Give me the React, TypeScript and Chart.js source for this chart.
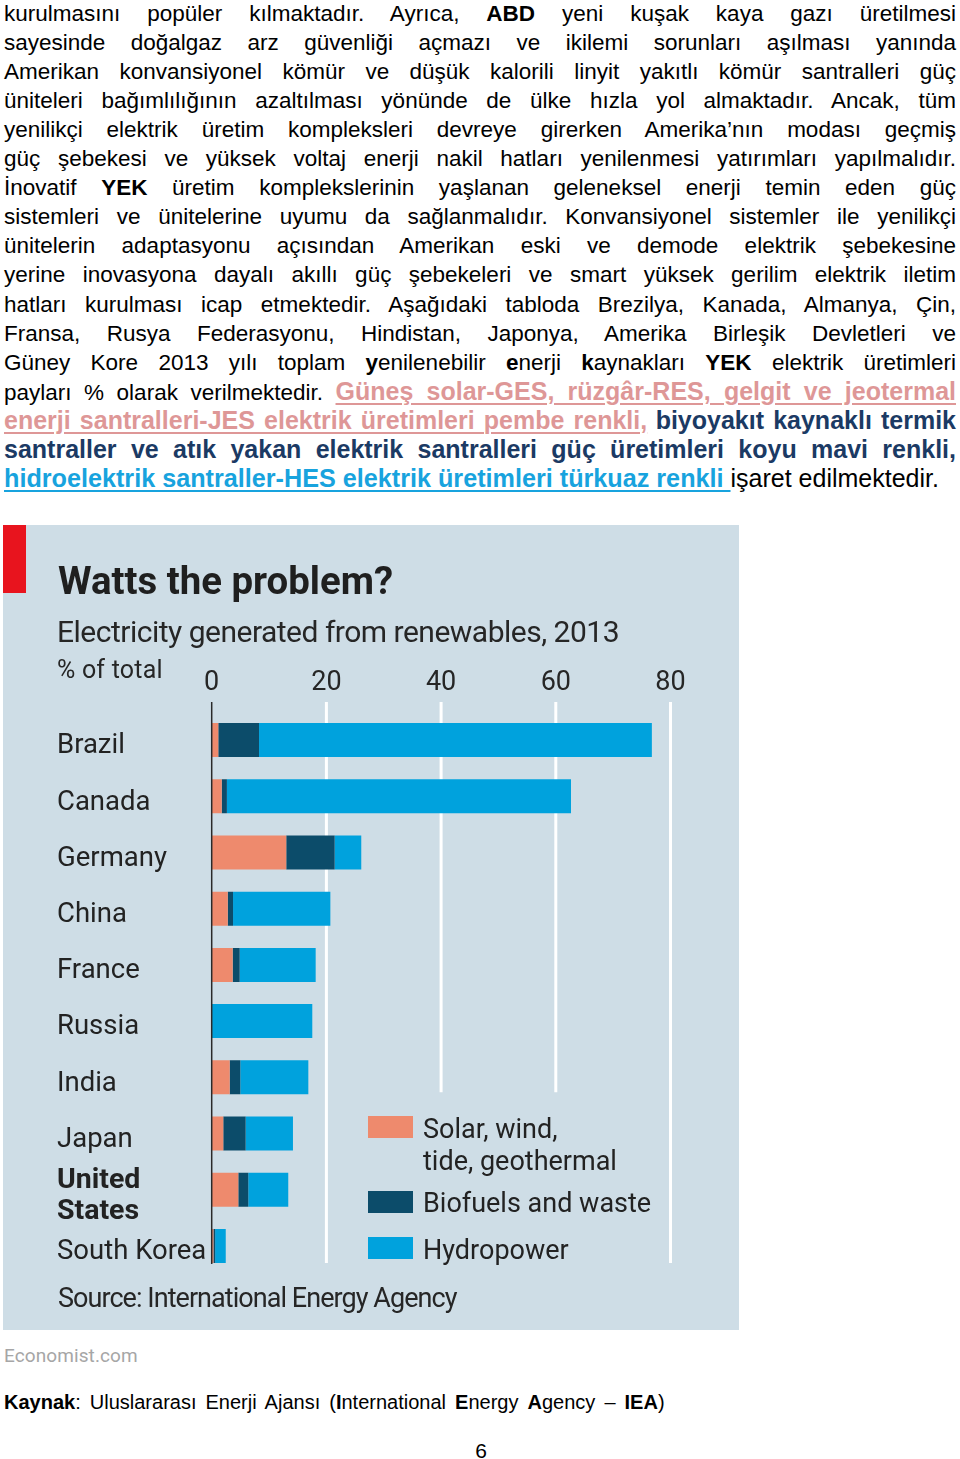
import React, { useEffect, useLayoutEffect, useRef } from "react";
import { Chart, registerables } from "chart.js";

Chart.register(...registerables);

// ---------- chart data ----------
const countries: (string | string[])[] = [
  "Brazil",
  "Canada",
  "Germany",
  "China",
  "France",
  "Russia",
  "India",
  "Japan",
  ["United", "States"],
  "South Korea",
];
const solarWindTideGeo = [1.15, 1.75, 13.0, 2.8, 3.66, 0, 3.14, 2.02, 4.64, 0.3];
const biofuelsWaste = [7.1, 0.9, 8.44, 0.92, 1.22, 0, 1.85, 3.9, 1.74, 0.3];
const hydropower = [68.5, 60.0, 4.64, 16.97, 13.25, 17.54, 11.86, 8.25, 6.97, 1.85];
const xTickValues = [0, 20, 40, 60, 80];
const seriesNames = ["Solar, wind, tide, geothermal", "Biofuels and waste", "Hydropower"];
const legendLines = [["Solar, wind,", "tide, geothermal"], ["Biofuels and waste"], ["Hydropower"]];
const shortGridValues = [40, 60];

// ---------- page text ----------
type Seg = [string, string];
const paragraphLines: Seg[][] = [
  [["kurulmasını popüler kılmaktadır. Ayrıca, ", "n"], ["ABD", "b"], [" yeni kuşak kaya gazı üretilmesi", "n"]],
  [["sayesinde doğalgaz arz güvenliği açmazı ve ikilemi sorunları aşılması yanında", "n"]],
  [["Amerikan konvansiyonel kömür ve düşük kalorili linyit yakıtlı kömür santralleri güç", "n"]],
  [["üniteleri bağımlılığının azaltılması yönünde de ülke hızla yol almaktadır. Ancak, tüm", "n"]],
  [["yenilikçi elektrik üretim kompleksleri devreye girerken Amerika’nın modası geçmiş", "n"]],
  [["güç şebekesi ve yüksek voltaj enerji nakil hatları yenilenmesi yatırımları yapılmalıdır.", "n"]],
  [["İnovatif ", "n"], ["YEK", "b"], [" üretim komplekslerinin yaşlanan geleneksel enerji temin eden güç", "n"]],
  [["sistemleri ve ünitelerine uyumu da sağlanmalıdır. Konvansiyonel sistemler ile yenilikçi", "n"]],
  [["ünitelerin adaptasyonu açısından Amerikan eski ve demode elektrik şebekesine", "n"]],
  [["yerine inovasyona dayalı akıllı güç şebekeleri ve smart yüksek gerilim elektrik iletim", "n"]],
  [["hatları kurulması icap etmektedir. Aşağıdaki tabloda Brezilya, Kanada, Almanya, Çin,", "n"]],
  [["Fransa, Rusya Federasyonu, Hindistan, Japonya, Amerika Birleşik Devletleri ve", "n"]],
  [
    ["Güney Kore 2013 yılı toplam ", "n"], ["y", "b"], ["enilenebilir ", "n"], ["e", "b"],
    ["nerji ", "n"], ["k", "b"], ["aynakları ", "n"], ["YEK", "b"], [" elektrik üretimleri", "n"],
  ],
  [["payları % olarak verilmektedir. ", "n"], ["Güneş solar-GES, rüzgâr-RES, gelgit ve jeotermal", "p"]],
  [["enerji santralleri-JES elektrik üretimleri pembe renkli,", "p"], [" ", "n"], ["biyoyakıt kaynaklı termik", "d"]],
  [["santraller ve atık yakan elektrik santralleri güç üretimleri koyu mavi renkli,", "d"]],
  [["hidroelektrik santraller-HES elektrik üretimleri türkuaz renkli ", "t"], ["işaret edilmektedir.", "L"]],
];

const segStyle = (k: string): React.CSSProperties => {
  switch (k) {
    case "b":
      return { fontWeight: "bold" };
    case "L":
      return { fontSize: 25 };
    case "p":
      return { fontWeight: "bold", fontSize: 25, color: "#de9797", textDecoration: "underline", textDecorationThickness: "2px", textUnderlineOffset: "3px" };
    case "d":
      return { fontWeight: "bold", fontSize: 25, color: "#1b3a64" };
    case "t":
      return { fontWeight: "bold", fontSize: 25.2, color: "#18a3de", textDecoration: "underline", textDecorationThickness: "2px", textUnderlineOffset: "3px" };
    default:
      return {};
  }
};

function ParaLine({ segs, top, last }: { segs: Seg[]; top: number; last: boolean }) {
  const ref = useRef<HTMLDivElement>(null);
  useLayoutEffect(() => {
    const el = ref.current;
    if (!el) return;
    if (el.scrollWidth > el.clientWidth + 1) {
      const s = el.clientWidth / el.scrollWidth;
      el.style.width = el.scrollWidth + "px";
      el.style.transform = `scaleX(${s})`;
      el.style.transformOrigin = "left top";
    }
  }, []);
  return (
    <div
      ref={ref}
      style={{
        position: "absolute",
        left: 4,
        top,
        width: 952,
        height: 29,
        lineHeight: "29px",
        fontFamily: "'Liberation Sans', Arial, sans-serif",
        fontSize: 22.5,
        color: "#000",
        whiteSpace: "nowrap",
        textAlign: last ? "left" : "justify",
        textAlignLast: last ? "left" : "justify",
      }}
    >
      {segs.map((s, i) => (
        <span key={i} style={segStyle(s[1])}>
          {s[0]}
        </span>
      ))}
    </div>
  );
}

const PANEL_LEFT = 3;
const PANEL_TOP = 525;
const PANEL_W = 736;
const PANEL_H = 805;

export default function App() {
  const canvasRef = useRef<HTMLCanvasElement>(null);

  useEffect(() => {
    const canvas = canvasRef.current;
    if (!canvas) return;
    const fam = "Roboto, 'DejaVu Sans', sans-serif";

    const decor = {
      id: "ecoDecor",
      beforeDatasetsDraw(chart: any) {
        const { ctx, chartArea, scales } = chart;
        const x = scales.x;
        const y = scales.y;
        const top = chartArea.top - 10;
        const bottom = y.getPixelForValue(9) + 17;
        const shortBottom = y.getPixelForValue(6) + 15;
        ctx.save();
        ctx.strokeStyle = "#ffffff";
        ctx.lineWidth = 3;
        x.ticks.forEach((t: any) => {
          if (t.value === 0) return;
          const px = x.getPixelForValue(t.value);
          ctx.beginPath();
          ctx.moveTo(px, top);
          ctx.lineTo(px, shortGridValues.includes(t.value) ? shortBottom : bottom);
          ctx.stroke();
        });
        ctx.restore();
      },
      afterDatasetsDraw(chart: any) {
        const { ctx, chartArea, scales } = chart;
        const x = scales.x;
        const y = scales.y;
        const top = chartArea.top - 10;
        const bottom = y.getPixelForValue(9) + 18;
        const x0 = x.getPixelForValue(0);
        ctx.save();
        ctx.strokeStyle = "#2a2a2a";
        ctx.lineWidth = 1.5;
        ctx.beginPath();
        ctx.moveTo(x0, top);
        ctx.lineTo(x0, bottom);
        ctx.stroke();

        // legend
        const boxX = 365;
        const boxW = 45;
        const boxH = 22;
        const textX = 420;
        const items = [
          { boxY: 591, lines: [606.5, 638] },
          { boxY: 666, lines: [680.5] },
          { boxY: 712, lines: [727] },
        ];
        ctx.font = `27px ${fam}`;
        ctx.textBaseline = "middle";
        ctx.textAlign = "left";
        chart.data.datasets.forEach((ds: any, i: number) => {
          const it = items[i];
          ctx.fillStyle = ds.backgroundColor;
          ctx.fillRect(boxX, it.boxY, boxW, boxH);
          ctx.fillStyle = "#222222";
          legendLines[i].forEach((ln, j) => {
            ctx.fillText(ln, textX, it.lines[j]);
          });
        });
        ctx.restore();
      },
    };

    const chart = new Chart(canvas, {
      type: "bar",
      data: {
        labels: countries as any,
        datasets: [
          { label: seriesNames[0], data: solarWindTideGeo, backgroundColor: "#ee8a6d" },
          { label: seriesNames[1], data: biofuelsWaste, backgroundColor: "#0c4c6a" },
          { label: seriesNames[2], data: hydropower, backgroundColor: "#00a2dd" },
        ],
      },
      options: {
        indexAxis: "y",
        animation: false,
        responsive: true,
        maintainAspectRatio: false,
        datasets: { bar: { barPercentage: 0.605, categoryPercentage: 1 } } as any,
        layout: { padding: { left: 54, right: 68.5, top: 120, bottom: 55.9 } },
        scales: {
          x: {
            type: "linear",
            position: "top",
            stacked: true,
            min: 0,
            max: 80,
            afterBuildTicks: (s: any) => {
              s.ticks = xTickValues.map((v) => ({ value: v }));
            },
            afterFit: (s: any) => {
              s.height = 66.9;
            },
            ticks: {
              autoSkip: false,
              maxRotation: 0,
              padding: 12.5,
              color: "#262626",
              font: { family: fam, size: 27 },
            },
            grid: { display: false, drawTicks: false },
            border: { display: false },
          },
          y: {
            type: "category",
            stacked: true,
            afterFit: (s: any) => {
              s.width = 154.7;
            },
            ticks: {
              crossAlign: "far",
              padding: 0,
              labelOffset: 6.5,
              autoSkip: false,
              color: "#222222",
              font: ((c: any) =>
                c.index === 8
                  ? { family: fam, size: 28.5, weight: "bold", lineHeight: 1.06 }
                  : { family: fam, size: 27.5, lineHeight: 1.2 }) as any,
            },
            grid: { display: false, drawTicks: false },
            border: { display: false },
          },
        },
        plugins: {
          legend: { display: false },
          tooltip: { enabled: false },
        },
      },
      plugins: [decor],
    });
    return () => chart.destroy();
  }, []);

  const chartFont = "Roboto, 'DejaVu Sans', sans-serif";
  const LINE0 = -1;
  const LINE_STEP = 29.05;

  return (
    <div
      style={{
        position: "absolute",
        left: 0,
        top: 0,
        width: 960,
        height: 1459,
        background: "#ffffff",
        overflow: "hidden",
      }}
    >
      {paragraphLines.map((segs, i) => (
        <ParaLine key={i} segs={segs} top={LINE0 + i * LINE_STEP} last={i === paragraphLines.length - 1} />
      ))}

      {/* chart panel */}
      <div
        style={{
          position: "absolute",
          left: PANEL_LEFT,
          top: PANEL_TOP,
          width: PANEL_W,
          height: PANEL_H,
          background: "#cedde6",
        }}
      >
        <canvas ref={canvasRef} />
      </div>
      <div style={{ position: "absolute", left: 3, top: 525, width: 23, height: 68, background: "#e8141e" }} />
      <div
        style={{
          position: "absolute",
          left: 58,
          top: 594 - 0.842 * 38.4,
          fontFamily: chartFont,
          fontWeight: "bold",
          fontSize: 38.4,
          lineHeight: "38.4px",
          color: "#1f1f1f",
          whiteSpace: "nowrap",
        }}
      >
        Watts the problem?
      </div>
      <div
        style={{
          position: "absolute",
          left: 57,
          top: 642 - 0.842 * 30,
          fontFamily: chartFont,
          fontSize: 30,
          lineHeight: "30px",
          letterSpacing: "-0.5px",
          color: "#262626",
          whiteSpace: "nowrap",
        }}
      >
        Electricity generated from renewables, 2013
      </div>
      <div
        style={{
          position: "absolute",
          left: 57,
          top: 678 - 0.842 * 25,
          fontFamily: chartFont,
          fontSize: 25,
          lineHeight: "25px",
          letterSpacing: "0.2px",
          color: "#262626",
          whiteSpace: "nowrap",
        }}
      >
        % of total
      </div>
      <div
        style={{
          position: "absolute",
          left: 58,
          top: 1308 - 0.842 * 27,
          fontFamily: chartFont,
          fontSize: 27,
          lineHeight: "27px",
          letterSpacing: "-0.95px",
          color: "#262626",
          whiteSpace: "nowrap",
        }}
      >
        Source: International Energy Agency
      </div>
      <div
        style={{
          position: "absolute",
          left: 4,
          top: 1362 - 0.842 * 19,
          fontFamily: chartFont,
          fontSize: 19,
          lineHeight: "19px",
          letterSpacing: "0.1px",
          color: "#a6a6a6",
          whiteSpace: "nowrap",
        }}
      >
        Economist.com
      </div>
      <div
        style={{
          position: "absolute",
          left: 4,
          top: 1409 - 0.8465 * 20,
          fontFamily: "'Liberation Sans', Arial, sans-serif",
          fontSize: 20,
          lineHeight: "20px",
          wordSpacing: "3.5px",
          color: "#000",
          whiteSpace: "nowrap",
        }}
      >
        <b>Kaynak</b>: Uluslararası Enerji Ajansı (<b>I</b>nternational <b>E</b>nergy <b>A</b>gency – <b>IEA</b>)
      </div>
      <div
        style={{
          position: "absolute",
          left: 471,
          width: 20,
          textAlign: "center",
          top: 1458 - 0.8465 * 21,
          fontFamily: "'Liberation Sans', Arial, sans-serif",
          fontSize: 21,
          lineHeight: "21px",
          color: "#000",
        }}
      >
        6
      </div>
    </div>
  );
}
